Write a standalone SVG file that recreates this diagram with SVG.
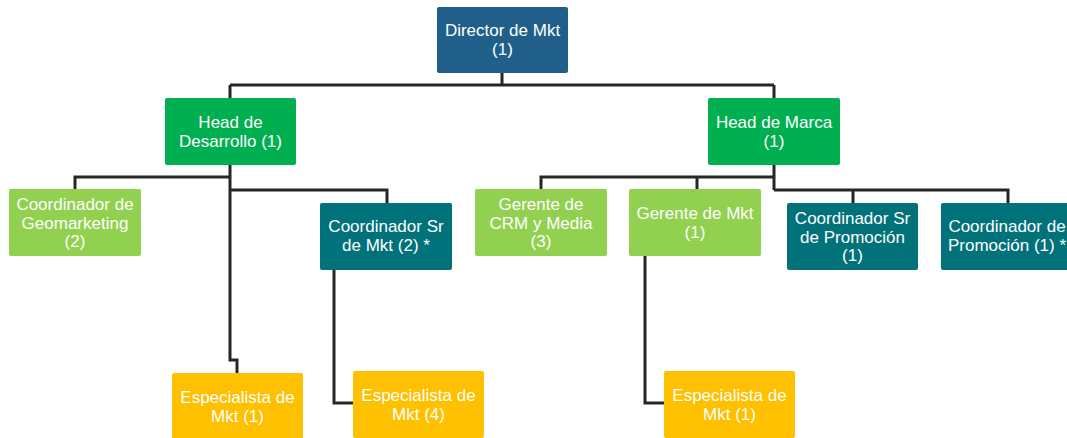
<svg xmlns="http://www.w3.org/2000/svg" width="1067" height="438" viewBox="0 0 1067 438">
<style>
.box{stroke:none}
.blue{fill:#1F5F8A}
.green{fill:#00B050}
.lgreen{fill:#92D050}
.teal{fill:#017279}
.yellow{fill:#FFC000}
text{font-family:"Liberation Sans",Arial,sans-serif;font-size:17px;fill:#fff;text-anchor:middle}
.conn{fill:none;stroke:#262626;stroke-width:3;stroke-linejoin:miter}
</style>
<rect width="1067" height="438" fill="#fff"/>
<g id="connectors" class="conn">
<path d="M502,73 V85"/>
<path d="M230,85 H774"/>
<path d="M230,85 V98"/>
<path d="M774,85 V98"/>
<path d="M230,165 V360 H237 V373"/>
<path d="M230,177 H75 V189"/>
<path d="M230,190 H387 V203"/>
<path d="M334,270 V403 H353"/>
<path d="M774,165 V190"/>
<path d="M774,177 H541 V189"/>
<path d="M697,177 V189"/>
<path d="M774,190 H1008 V203"/>
<path d="M853,190 V203"/>
<path d="M645,256 V403 H664"/>
</g>
<g id="director">
<rect class="box blue" x="437" y="7" width="131" height="66" rx="2"/>
<text x="502.5" y="36">Director de Mkt</text>
<text x="502.5" y="55">(1)</text>
</g>
<g id="head-desarrollo">
<rect class="box green" x="165" y="98" width="131" height="67" rx="2"/>
<text x="230.5" y="128">Head de</text>
<text x="230.5" y="147">Desarrollo (1)</text>
</g>
<g id="head-marca">
<rect class="box green" x="708" y="98" width="132" height="67" rx="2"/>
<text x="774" y="128">Head de Marca</text>
<text x="774" y="147">(1)</text>
</g>
<g id="coord-geomarketing">
<rect class="box lgreen" x="9" y="189" width="132" height="67" rx="2"/>
<text x="75" y="210">Coordinador de</text>
<text x="75" y="228.5">Geomarketing</text>
<text x="75" y="247">(2)</text>
</g>
<g id="coord-sr-mkt">
<rect class="box teal" x="320" y="203" width="132" height="67" rx="2"/>
<text x="386" y="232">Coordinador Sr</text>
<text x="386" y="251">de Mkt (2) *</text>
</g>
<g id="gerente-crm">
<rect class="box lgreen" x="475" y="189" width="132" height="67" rx="2"/>
<text x="541" y="210">Gerente de</text>
<text x="541" y="228.5">CRM y Media</text>
<text x="541" y="247">(3)</text>
</g>
<g id="gerente-mkt">
<rect class="box lgreen" x="629" y="189" width="132" height="67" rx="2"/>
<text x="695" y="219">Gerente de Mkt</text>
<text x="695" y="238">(1)</text>
</g>
<g id="coord-sr-promocion">
<rect class="box teal" x="787" y="203" width="131" height="67" rx="2"/>
<text x="852.5" y="224">Coordinador Sr</text>
<text x="852.5" y="242.5">de Promoción</text>
<text x="852.5" y="261">(1)</text>
</g>
<g id="coord-promocion">
<rect class="box teal" x="941" y="203" width="132" height="67" rx="2"/>
<text x="1007" y="232">Coordinador de</text>
<text x="1007" y="251">Promoción (1) *</text>
</g>
<g id="especialista-1">
<rect class="box yellow" x="172" y="373" width="131" height="67" rx="2"/>
<text x="237.5" y="403">Especialista de</text>
<text x="237.5" y="422">Mkt (1)</text>
</g>
<g id="especialista-4">
<rect class="box yellow" x="353" y="371" width="131" height="67" rx="2"/>
<text x="418.5" y="401">Especialista de</text>
<text x="418.5" y="420">Mkt (4)</text>
</g>
<g id="especialista-1b">
<rect class="box yellow" x="664" y="371" width="131" height="67" rx="2"/>
<text x="729.5" y="401">Especialista de</text>
<text x="729.5" y="420">Mkt (1)</text>
</g>
</svg>
